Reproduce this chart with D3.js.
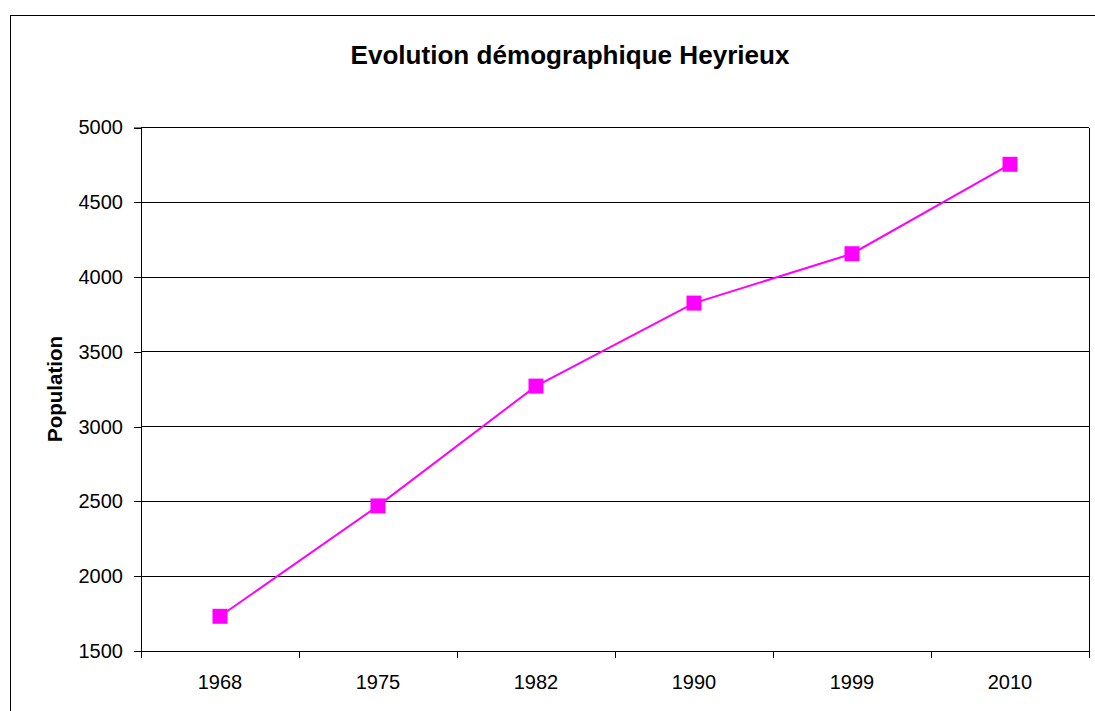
<!DOCTYPE html>
<html>
<head>
<meta charset="utf-8">
<script src="https://cdn.jsdelivr.net/npm/d3@7"></script>
<style>
  body { margin: 0; background: #fff; }
  svg { font-family: "Liberation Sans", Arial, sans-serif; }
</style>
</head>
<body>
<svg id="chart" width="1095" height="711"></svg>
<script>
const years = ['1968', '1975', '1982', '1990', '1999', '2010'];
const population = [1732, 2470, 3271, 3826, 4156, 4754];
const yTicks = [1500, 2000, 2500, 3000, 3500, 4000, 4500, 5000];

const svg = d3.select('#chart');
const margin = { top: 127.5, right: 6, bottom: 60, left: 141 };
const width = 1095 - margin.left - margin.right;
const height = 711 - margin.top - margin.bottom;

// outer frame
svg.append('rect')
  .attr('x', 10.5).attr('y', 15.5)
  .attr('width', 1100).attr('height', 720)
  .attr('fill', 'none').attr('stroke', '#000').attr('stroke-width', 1);

svg.append('text')
  .attr('x', 570).attr('y', 64)
  .attr('text-anchor', 'middle')
  .style('font-size', '26px').style('font-weight', 'bold')
  .attr('textLength', 439).attr('lengthAdjust', 'spacingAndGlyphs')
  .text('Evolution démographique Heyrieux');

const g = svg.append('g').attr('transform', `translate(${margin.left},${margin.top})`);

const x = d3.scaleBand().domain(years).range([0, width]);
const y = d3.scaleLinear().domain([1500, 5000]).range([height, 0]);

// gridlines
g.selectAll('.grid').data(yTicks.slice(1)).enter().append('line')
  .attr('x1', 0).attr('x2', width)
  .attr('y1', d => y(d)).attr('y2', d => y(d))
  .attr('stroke', '#000').attr('stroke-width', 1).attr('shape-rendering', 'crispEdges');

// plot border right
g.append('line').attr('x1', width).attr('x2', width).attr('y1', 0).attr('y2', height)
  .attr('stroke', '#000').attr('shape-rendering', 'crispEdges');

const yAxis = g.append('g')
  .call(d3.axisLeft(y).tickValues(yTicks).tickFormat(d3.format('d')).tickSize(7).tickPadding(11));
yAxis.attr('font-size', 20).attr('font-family', '"Liberation Sans", Arial, sans-serif');
yAxis.select('.domain').attr('stroke', '#000');
yAxis.selectAll('text').attr('fill', '#000');
yAxis.selectAll('line').attr('shape-rendering', 'crispEdges');

const xAxisG = g.append('g').attr('transform', `translate(0,${height})`);
xAxisG.append('line').attr('x1', 0).attr('x2', width).attr('stroke', '#000').attr('shape-rendering', 'crispEdges');
const bounds = years.map(d => x(d)).concat([width]);
xAxisG.selectAll('.tick-b').data(bounds).enter().append('line')
  .attr('x1', d => d).attr('x2', d => d).attr('y1', 0).attr('y2', 7)
  .attr('stroke', '#000').attr('shape-rendering', 'crispEdges');
xAxisG.selectAll('.lbl').data(years).enter().append('text')
  .attr('x', d => x(d) + x.bandwidth() / 2).attr('y', 689 - 711 + margin.bottom)
  .attr('text-anchor', 'middle').style('font-size', '20px')
  .text(d => d);

g.append('text')
  .attr('transform', `translate(${62 - margin.left},${389 - margin.top}) rotate(-90)`)
  .attr('text-anchor', 'middle')
  .style('font-size', '20.5px').style('font-weight', 'bold')
  .text('Population');

const pts = years.map((d, i) => ({ year: d, value: population[i] }));
const line = d3.line().x(d => x(d.year) + x.bandwidth() / 2).y(d => y(d.value));

g.append('path').datum(pts).attr('d', line)
  .attr('fill', 'none').attr('stroke', '#ff00ff').attr('stroke-width', 2);

const s = 15;
g.selectAll('.marker').data(pts).enter().append('rect')
  .attr('x', d => x(d.year) + x.bandwidth() / 2 - s / 2)
  .attr('y', d => y(d.value) - s / 2)
  .attr('width', s).attr('height', s)
  .attr('fill', '#ff00ff');
</script>
</body>
</html>
